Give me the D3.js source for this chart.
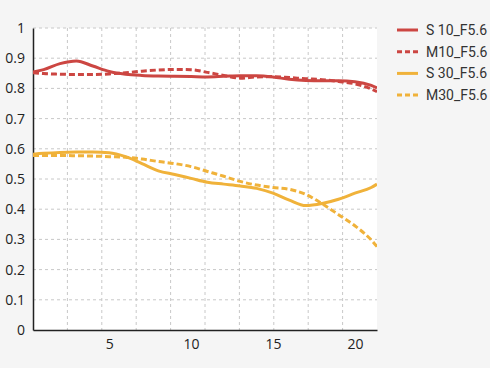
<!DOCTYPE html>
<html>
<head>
<meta charset="utf-8">
<script src="https://cdn.jsdelivr.net/npm/d3@7"></script>
<style>
  body { margin: 0; background: #f5f5f5; }
  svg { display: block; }
</style>
</head>
<body>
<div id="chart"></div>
<script>
// data (x = image height, y = MTF)
var xs = [0.35, 1, 2, 3, 4, 5, 6, 7, 8, 9, 10, 11, 12, 13, 14, 15, 16, 17, 18, 19, 20, 21, 21.35];
var s10 = [0.854, 0.862, 0.882, 0.891, 0.874, 0.856, 0.847, 0.843, 0.841, 0.840, 0.839, 0.838, 0.840, 0.842, 0.842, 0.838, 0.830, 0.826, 0.825, 0.825, 0.822, 0.810, 0.802];
var m10 = [0.852, 0.849, 0.847, 0.846, 0.846, 0.848, 0.852, 0.857, 0.861, 0.863, 0.862, 0.853, 0.843, 0.834, 0.838, 0.839, 0.836, 0.832, 0.829, 0.823, 0.815, 0.798, 0.789];
var s30 = [0.582, 0.585, 0.588, 0.589, 0.589, 0.587, 0.574, 0.551, 0.527, 0.515, 0.502, 0.489, 0.483, 0.477, 0.469, 0.453, 0.430, 0.412, 0.419, 0.433, 0.453, 0.472, 0.483];
var m30 = [0.578, 0.578, 0.578, 0.577, 0.576, 0.574, 0.572, 0.566, 0.558, 0.551, 0.541, 0.525, 0.509, 0.492, 0.480, 0.472, 0.466, 0.449, 0.418, 0.382, 0.345, 0.298, 0.276];
var seriesNames = ["S 10_F5.6", "M10_F5.6", "S 30_F5.6", "M30_F5.6"];
var xTicks = [5, 10, 15, 20];
var yTicks = [0, 0.1, 0.2, 0.3, 0.4, 0.5, 0.6, 0.7, 0.8, 0.9, 1];

var series = [
  {name: seriesNames[0], values: s10, color: "#cc4642", dash: null},
  {name: seriesNames[1], values: m10, color: "#cc4642", dash: "6,3"},
  {name: seriesNames[2], values: s30, color: "#f0b23a", dash: null},
  {name: seriesNames[3], values: m30, color: "#f0b23a", dash: "6,3"}
];

var W = 490, H = 368;
var margin = {top: 28, right: 113, bottom: 38, left: 33},
    width = W - margin.left - margin.right,
    height = H - margin.top - margin.bottom;

var svg = d3.select("#chart")
  .append("svg")
  .attr("width", W)
  .attr("height", H);

svg.append("rect").attr("width", W).attr("height", H).attr("fill", "#f5f5f5");

var g = svg.append("g")
  .attr("transform", "translate(" + margin.left + "," + margin.top + ")");

var x = d3.scaleLinear().domain([0.35, 21.35]).range([0, width]);
var y = d3.scaleLinear().domain([0, 1]).range([height, 0]);

// plot background
g.append("rect")
  .attr("width", width)
  .attr("height", height)
  .attr("fill", "#ffffff");

// grid: horizontal at y ticks, vertical at 10 equal divisions
g.append("g")
  .selectAll("line")
  .data(yTicks.slice(1))
  .enter().append("line")
  .attr("x1", 0).attr("x2", width)
  .attr("y1", d => y(d)).attr("y2", d => y(d))
  .attr("stroke", "#c8c8c8")
  .attr("stroke-width", 1)
  .attr("stroke-dasharray", "3,3");

var xDom = x.domain();
var xGrid = d3.range(1, 10).map(i => xDom[0] + i * (xDom[1] - xDom[0]) / 10);
g.append("g")
  .selectAll("line")
  .data(xGrid)
  .enter().append("line")
  .attr("x1", d => x(d)).attr("x2", d => x(d))
  .attr("y1", 0).attr("y2", height)
  .attr("stroke", "#c8c8c8")
  .attr("stroke-width", 1)
  .attr("stroke-dasharray", "3,3");

// axes
var yAxis = g.append("g")
  .call(d3.axisLeft(y).tickValues(yTicks).tickFormat(d3.format("~g")).tickSize(0).tickPadding(8));
var xAxis = g.append("g")
  .attr("transform", "translate(0," + height + ")")
  .call(d3.axisBottom(x).tickValues(xTicks).tickSize(0).tickPadding(9));

[yAxis, xAxis].forEach(function(a) {
  a.select(".domain").attr("stroke", "#222").attr("stroke-width", 1.5);
  a.selectAll("text")
    .attr("fill", "#222")
    .style("font-family", "'Open Sans', 'Noto Sans', sans-serif")
    .style("font-size", "14px");
});

// lines
g.append("clipPath").attr("id", "clip")
  .append("rect").attr("width", width).attr("height", height);

var line = d3.line()
  .x((d, i) => x(xs[i]))
  .y(d => y(d))
  .curve(d3.curveMonotoneX);

g.append("g").attr("clip-path", "url(#clip)")
  .selectAll("path")
  .data(series)
  .enter().append("path")
  .attr("d", d => line(d.values))
  .attr("fill", "none")
  .attr("stroke", d => d.color)
  .attr("stroke-width", 3)
  .attr("stroke-dasharray", d => d.dash);

// legend
var legend = svg.append("g")
  .attr("transform", "translate(397,30)");

var item = legend.selectAll("g")
  .data(series)
  .enter().append("g")
  .attr("transform", (d, i) => "translate(0," + (i * 21.7) + ")");

item.append("line")
  .attr("x1", 0).attr("x2", 21)
  .attr("y1", 0).attr("y2", 0)
  .attr("stroke", d => d.color)
  .attr("stroke-width", 3)
  .attr("stroke-dasharray", d => d.dash ? "5,3" : null);

item.append("text")
  .attr("x", 29)
  .attr("y", 0)
  .attr("dy", "0.35em")
  .attr("fill", "#333")
  .style("font-family", "Roboto, sans-serif")
  .style("font-size", "14px")
  .text(d => d.name);
</script>
</body>
</html>
